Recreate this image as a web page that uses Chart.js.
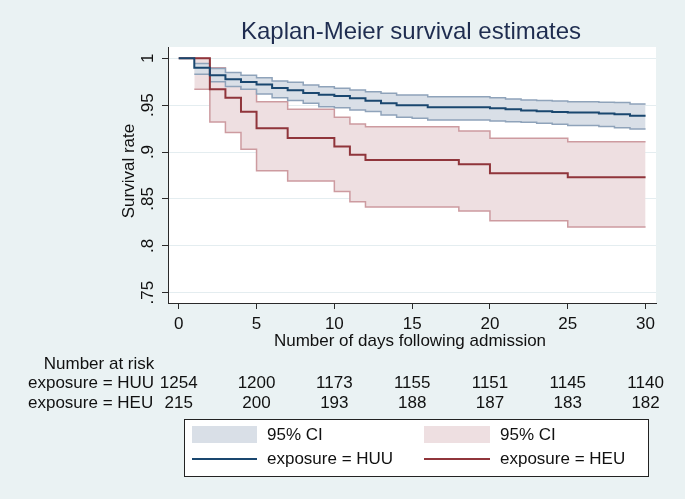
<!DOCTYPE html>
<html><head><meta charset="utf-8">
<script src="https://cdn.jsdelivr.net/npm/chart.js@4"></script>
<style>html,body{margin:0;padding:0;background:#eaf2f3;overflow:hidden}#wrap{width:685px;height:499px}</style>
</head><body><div id="wrap"><canvas id="c" width="685" height="499"></canvas></div>
<script>
// ---- data ----
const days = [0,1,2,3,4,5,6,7,8,9,10,11,12,13,14,15,16,17,18,19,20,21,22,23,24,25,26,27,28,29,30];
const huuSurv  = [1.0,0.990,0.982,0.9775,0.9746,0.9721,0.9684,0.966,0.963,0.961,0.9598,0.9574,0.9548,0.952,0.950,0.950,0.9477,0.9477,0.9477,0.9477,0.9467,0.9456,0.9443,0.9435,0.9428,0.9421,0.9421,0.9412,0.9404,0.9388,0.9388];
const huuUpper = [null,0.9943,0.989,0.9847,0.9819,0.9793,0.9758,0.9744,0.9715,0.9697,0.968,0.9662,0.9644,0.9627,0.9609,0.9609,0.959,0.959,0.959,0.959,0.958,0.9566,0.9555,0.955,0.9545,0.9537,0.9537,0.953,0.9527,0.9513,0.9513];
const huuLower = [null,0.983,0.975,0.970,0.967,0.962,0.958,0.955,0.952,0.9484,0.9473,0.9449,0.9431,0.9396,0.937,0.936,0.9342,0.9342,0.9342,0.9342,0.9331,0.9324,0.9318,0.9307,0.9296,0.9282,0.9282,0.9271,0.926,0.9246,0.9246];
const heuSurv  = [1.0,1.0,0.967,0.958,0.943,0.9254,0.9254,0.915,0.915,0.915,0.906,0.897,0.8916,0.8916,0.8916,0.8916,0.8916,0.8916,0.887,0.887,0.8774,0.8774,0.8774,0.8774,0.8774,0.873,0.873,0.873,0.873,0.873,0.873];
const heuUpper = [null,1.0,0.99,0.98,0.967,0.9537,0.9537,0.9456,0.9456,0.9456,0.937,0.930,0.927,0.927,0.927,0.927,0.927,0.927,0.9225,0.9225,0.9147,0.9147,0.9147,0.9147,0.9147,0.911,0.911,0.911,0.911,0.911,0.911];
const heuLower = [null,0.967,0.932,0.9207,0.903,0.880,0.880,0.869,0.869,0.869,0.858,0.847,0.8415,0.8415,0.8415,0.8415,0.8415,0.8415,0.837,0.837,0.8266,0.8266,0.8266,0.8266,0.8266,0.820,0.820,0.820,0.820,0.820,0.820];
const xTicks = [0,5,10,15,20,25,30];
const yTicks = [0.75,0.8,0.85,0.9,0.95,1];
const yTickLabels = ['.75','.8','.85','.9','.95','1'];
const riskTimes = [0,5,10,15,20,25,30];
const huuRisk = [1254,1200,1173,1155,1151,1145,1140];
const heuRisk = [215,200,193,188,187,183,182];
const groupLabels = ['exposure = HUU','exposure = HEU'];

const C = {
  bg:'#eaf2f3', huu:'#1a476f', heu:'#90353b',
  huuFill:'#d9dfe7', heuFill:'#eedfe1', huuEdge:'#8fa3ba', heuEdge:'#cd9ba0',
  axis:'#2a2a2a', grid:'#e4edf0', text:'#111111', title:'#1f2d50'
};
const FONT = '"Liberation Sans", Arial, sans-serif';
const pts = arr => days.map((d,i)=>({x:d,y:arr[i]}));

const textPlugin = {
  id:'stataText',
  beforeDraw(chart){
    const {ctx, chartArea:a} = chart;
    ctx.save();
    ctx.fillStyle = C.bg; ctx.fillRect(0,0,chart.width,chart.height);
    ctx.fillStyle = '#ffffff'; ctx.fillRect(a.left,a.top,a.right-a.left,a.bottom-a.top);
    ctx.restore();
  },
  afterDraw(chart){
    const {ctx, chartArea:a} = chart;
    const xs = chart.scales.x, ys = chart.scales.y;
    ctx.save();
    // title
    ctx.fillStyle = C.title; ctx.font = '24px '+FONT; ctx.textAlign='center'; ctx.textBaseline='middle';
    ctx.fillText('Kaplan-Meier survival estimates', 411, 32);
    // y tick labels (rotated)
    ctx.fillStyle = C.text; ctx.font = '17px '+FONT;
    yTicks.forEach((v,i)=>{
      const y = ys.getPixelForValue(v);
      ctx.save(); ctx.translate(148,y); ctx.rotate(-Math.PI/2);
      ctx.textAlign='center'; ctx.textBaseline='middle'; ctx.fillText(yTickLabels[i],0,0); ctx.restore();
    });
    // y title
    ctx.save(); ctx.translate(129,171); ctx.rotate(-Math.PI/2);
    ctx.textAlign='center'; ctx.textBaseline='middle'; ctx.fillText('Survival rate',0,0); ctx.restore();
    // x tick labels
    ctx.textAlign='center'; ctx.textBaseline='middle';
    xTicks.forEach(v=>ctx.fillText(String(v), xs.getPixelForValue(v), 324));
    ctx.fillText('Number of days following admission', 410, 341);
    // risk table
    ctx.fillText('Number at risk', 99, 364);
    ctx.textAlign='left';
    ctx.fillText(groupLabels[0], 28, 383.5);
    ctx.fillText(groupLabels[1], 28, 403);
    ctx.textAlign='center';
    riskTimes.forEach((t,i)=>{
      const x = xs.getPixelForValue(t);
      ctx.fillText(String(huuRisk[i]), x, 383.5);
      ctx.fillText(String(heuRisk[i]), x, 403);
    });
    // legend
    ctx.fillStyle='#ffffff'; ctx.fillRect(184,419.5,464,57);
    ctx.strokeStyle='#222'; ctx.lineWidth=1; ctx.strokeRect(184.5,419.5,464,57);
    ctx.fillStyle=C.huuFill; ctx.fillRect(192,426,65,17);
    ctx.fillStyle=C.heuFill; ctx.fillRect(424,426,66,17);
    ctx.lineWidth=2;
    ctx.strokeStyle=C.huu; ctx.beginPath(); ctx.moveTo(192,459); ctx.lineTo(257,459); ctx.stroke();
    ctx.strokeStyle=C.heu; ctx.beginPath(); ctx.moveTo(424,459); ctx.lineTo(490,459); ctx.stroke();
    ctx.fillStyle=C.text; ctx.textAlign='left'; ctx.textBaseline='middle';
    ctx.fillText('95% CI',267,435); ctx.fillText('95% CI',500,435);
    ctx.fillText(groupLabels[0],267,459); ctx.fillText(groupLabels[1],500,459);
    ctx.restore();
  }
};

new Chart(document.getElementById('c'), {
  type:'line',
  data:{datasets:[
    {label:'HEU upper', data:pts(heuUpper), borderColor:C.heuEdge, borderWidth:1.5, backgroundColor:C.heuFill, fill:'+1', order:5},
    {label:'HEU lower', data:pts(heuLower), borderColor:C.heuEdge, borderWidth:1.5, fill:false, order:4},
    {label:'HUU upper', data:pts(huuUpper), borderColor:C.huuEdge, borderWidth:1.5, backgroundColor:C.huuFill, fill:'+1', order:3},
    {label:'HUU lower', data:pts(huuLower), borderColor:C.huuEdge, borderWidth:1.5, fill:false, order:2},
    {label:'exposure = HEU', data:pts(heuSurv), borderColor:C.heu, borderWidth:2, fill:false, order:1},
    {label:'exposure = HUU', data:pts(huuSurv), borderColor:C.huu, borderWidth:2, fill:false, order:0}
  ]},
  options:{
    responsive:false, animation:false,
    elements:{point:{radius:0,hoverRadius:0}, line:{stepped:true, tension:0}},
    layout:{padding:{top:47,right:29,left:0,bottom:0}},
    plugins:{legend:{display:false}, title:{display:false}, tooltip:{enabled:false}, filler:{drawTime:'beforeDatasetDraw'}},
    scales:{
      x:{type:'linear', min:-0.69, max:30.67,
         afterBuildTicks:s=>{s.ticks = xTicks.map(v=>({value:v}));},
         afterFit:s=>{s.height=196;},
         ticks:{display:false},
         grid:{display:true, drawOnChartArea:false, drawTicks:true, tickLength:6, tickColor:C.axis, color:C.axis},
         border:{display:true, color:C.axis, width:1}},
      y:{type:'linear', min:0.739, max:1.012,
         afterBuildTicks:s=>{s.ticks = yTicks.map(v=>({value:v}));},
         afterFit:s=>{s.width=168;},
         ticks:{display:false},
         grid:{display:true, drawOnChartArea:true, drawTicks:true, tickLength:6, tickColor:C.axis, color:C.grid, lineWidth:1},
         border:{display:true, color:C.axis, width:1}}
    }
  },
  plugins:[textPlugin]
});
</script></body></html>
